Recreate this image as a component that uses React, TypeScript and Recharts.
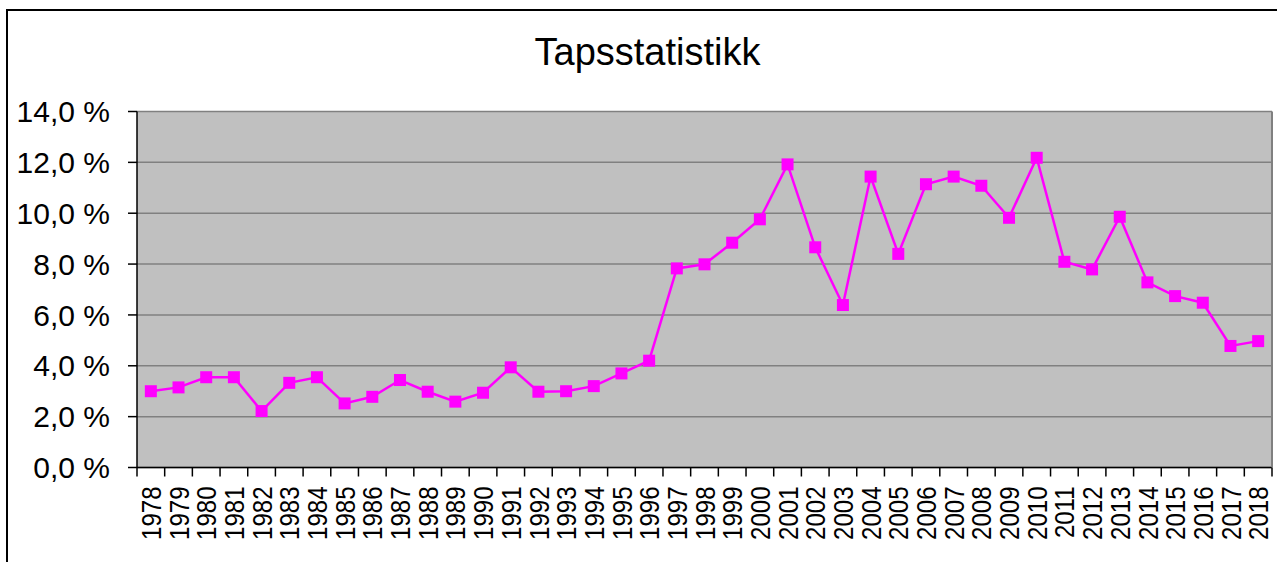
import { LineChart, Line, XAxis, YAxis, CartesianGrid } from "recharts";

// Chart data
const years = [
    "1978", "1979", "1980", "1981", "1982", "1983", "1984", "1985", "1986", "1987",
    "1988", "1989", "1990", "1991", "1992", "1993", "1994", "1995", "1996", "1997",
    "1998", "1999", "2000", "2001", "2002", "2003", "2004", "2005", "2006", "2007",
    "2008", "2009", "2010", "2011", "2012", "2013", "2014", "2015", "2016", "2017", "2018"
];
const lossRate = [
    3.0, 3.15, 3.55, 3.55, 2.22, 3.33, 3.55, 2.52, 2.78, 3.44,
    2.98, 2.59, 2.94, 3.94, 2.98, 3.0, 3.2, 3.7, 4.2, 7.83,
    7.99, 8.84, 9.76, 11.92, 8.66, 6.39, 11.44, 8.4, 11.14, 11.44,
    11.08, 9.82, 12.18, 8.09, 7.79, 9.86, 7.28, 6.74, 6.48, 4.78, 4.97
];
const yTicks = [0, 2, 4, 6, 8, 10, 12, 14];

const data = years.map((year, i) => ({ year, value: lossRate[i] }));

// Layout
const W = 1277;
const H = 562;
const PLOT_LEFT = 137;
const PLOT_RIGHT = 1272;
const PLOT_BOTTOM = 467.5;
const STEP = (PLOT_RIGHT - PLOT_LEFT) / years.length;
const FONT = "'Liberation Sans', Arial, sans-serif";

// x labels rotated, tick marks sit between categories like excel
function YearTick(props: any) {
    const { x, payload, index } = props;
    const left = x - STEP / 2;
    const ty = PLOT_BOTTOM + 19;
    return (
        <g>
            <line x1={left} x2={left} y1={PLOT_BOTTOM} y2={PLOT_BOTTOM + 9} stroke="#000" strokeWidth={1.5} />
            {index === years.length - 1 && (
                <line x1={x + STEP / 2} x2={x + STEP / 2} y1={PLOT_BOTTOM} y2={PLOT_BOTTOM + 9} stroke="#000" strokeWidth={1.5} />
            )}
            {/* glyphs a bit wider than normal, like the original */}
            <text
                x={0}
                y={0}
                transform={`translate(${x}, ${ty}) rotate(-90) scale(1, 1.17)`}
                textAnchor="end"
                dy="0.36em"
                fontSize={24}
                fontFamily={FONT}
                fill="#000"
            >
                {payload.value}
            </text>
        </g>
    );
}

function SquareDot(props: any) {
    const { cx, cy, index } = props;
    if (cx == null || cy == null) return null;
    return <rect key={`dot-${index}`} x={cx - 6} y={cy - 6} width={12} height={12} fill="#ff00ff" />;
}

export default function App() {
    return (
        <div style={{ position: "absolute", left: 0, top: 0, width: W, height: H, background: "#fff", overflow: "hidden" }}>
            {/* Frame */}
            <div
                style={{
                    position: "absolute",
                    left: 6,
                    top: 9,
                    width: W,
                    height: H,
                    borderLeft: "2px solid #000",
                    borderTop: "2px solid #000",
                }}
            />

            {/* Title */}
            <div
                style={{
                    position: "absolute",
                    left: 0,
                    width: 1295,
                    top: 33,
                    textAlign: "center",
                    fontFamily: FONT,
                    fontSize: 38,
                    lineHeight: "38px",
                    color: "#000",
                }}
            >
                Tapsstatistikk
            </div>

            <div style={{ position: "absolute", left: 0, top: 0 }}>
                <LineChart width={W} height={H} data={data} margin={{ top: 111.5, right: 0, bottom: 0, left: 0 }}>
                    <CartesianGrid
                        yAxisId="left"
                        vertical={false}
                        stroke="#808080"
                        strokeWidth={1.5}
                        fill="#c0c0c0"
                        fillOpacity={1}
                    />
                    <XAxis
                        dataKey="year"
                        height={H - PLOT_BOTTOM}
                        interval={0}
                        padding={{ left: STEP / 2, right: STEP / 2 }}
                        tickLine={false}
                        axisLine={{ stroke: "#000", strokeWidth: 1.5 }}
                        tick={<YearTick />}
                    />
                    <YAxis
                        yAxisId="left"
                        width={PLOT_LEFT}
                        domain={[0, 14]}
                        ticks={yTicks}
                        interval={0}
                        tickSize={9}
                        tickMargin={18}
                        tickLine={{ stroke: "#000", strokeWidth: 1.5 }}
                        axisLine={{ stroke: "#000", strokeWidth: 1.5 }}
                        tick={{ fontSize: 30, fill: "#000", fontFamily: FONT }}
                        tickFormatter={(v) => `${v.toFixed(1).replace(".", ",")} %`}
                    />
                    {/* right edge of plot */}
                    <YAxis
                        yAxisId="right"
                        orientation="right"
                        width={W - PLOT_RIGHT}
                        domain={[0, 14]}
                        tick={false}
                        tickLine={false}
                        axisLine={{ stroke: "#808080", strokeWidth: 2 }}
                    />
                    <Line
                        yAxisId="left"
                        type="linear"
                        dataKey="value"
                        stroke="#ff00ff"
                        strokeWidth={2.5}
                        dot={<SquareDot />}
                        activeDot={false}
                        isAnimationActive={false}
                    />
                </LineChart>
            </div>
        </div>
    );
}
